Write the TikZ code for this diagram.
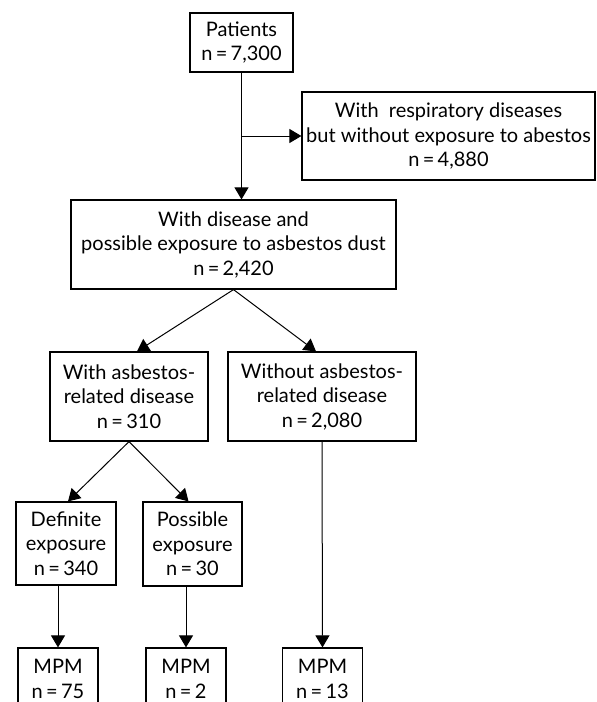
\documentclass[tikz,border=0pt]{standalone}
\usepackage{fontspec}
\setmainfont{Lato}
\usepackage{tikz}
\usetikzlibrary{positioning}
\usetikzlibrary{arrows.meta}
\tikzset{>={Triangle[length=6pt,width=7pt]}}
\tikzset{
  flowbox/.style={draw, line width=0.6pt, align=center, inner sep=0pt,
    font=\fontsize{10}{12.25}\selectfont},
  flowline/.style={->, line width=0.5pt}
}

\begin{document}
\begin{tikzpicture}[x=0.5pt,y=-0.5pt]
\useasboundingbox (0,0) rectangle (596,702);

% ================= Patients and first split =================
\node[flowbox, minimum width=51.5pt, minimum height=29.5pt] (pat) at (241.5,42.5)
  {Patients\\n\,=\,7,300};
\node[flowbox, minimum width=146.5pt, minimum height=44pt] (resp) at (448.5,136)
  {With\ \ respiratory diseases\\but without exposure to abestos\\n\,=\,4,880};
\node[flowbox, minimum width=162.5pt, minimum height=44.5pt] (poss) at (233.5,244.5)
  {With disease and\\possible exposure to asbestos dust\\n\,=\,2,420};

\draw[flowline] (pat.south) -- (pat.south |- poss.north);
\coordinate (br) at (pat.south |- resp.west);
\draw[flowline] (br) -- (resp.west);

% ================= Asbestos-related or not =================
\node[flowbox, minimum width=79pt, minimum height=44.5pt] (ard) at (129,396.5)
  {With asbestos-\\related disease\\n\,=\,310};
\node[flowbox, minimum width=94pt, minimum height=44.5pt] (nard) at (322,396.5)
  {Without asbestos-\\related disease\\n\,=\,2,080};

\draw[flowline] (poss.south) -- ([xshift=4pt]ard.north);
\draw[flowline] (poss.south) -- ([xshift=-3pt]nard.north);

% ================= Exposure =================
\node[flowbox, minimum width=50pt, minimum height=41.5pt] (defn) at (66,543.5)
  {Definite\\exposure\\n\,=\,340};
\node[flowbox, minimum width=49.5pt, minimum height=42pt] (possx) at (192.5,544)
  {Possible\\exposure\\n\,=\,30};

\draw[flowline] (ard.south) -- ([xshift=1pt]defn.north);
\draw[flowline] (ard.south) -- ([xshift=-2pt]possx.north);

% ================= MPM =================
\foreach \nm/\x/\v in {mpmA/58/75, mpmB/186/2, mpmC/322.5/13}{
  \node[flowbox, minimum width=40pt, minimum height=31pt] (\nm) at (\x,679)
    {MPM\\n\,=\,\v};
}

\draw[flowline] (mpmA.north |- defn.south) -- (mpmA.north);
\draw[flowline] (mpmB.north |- possx.south) -- (mpmB.north);
\draw[flowline] (nard.south) -- (mpmC.north);

\end{tikzpicture}
\end{document}
